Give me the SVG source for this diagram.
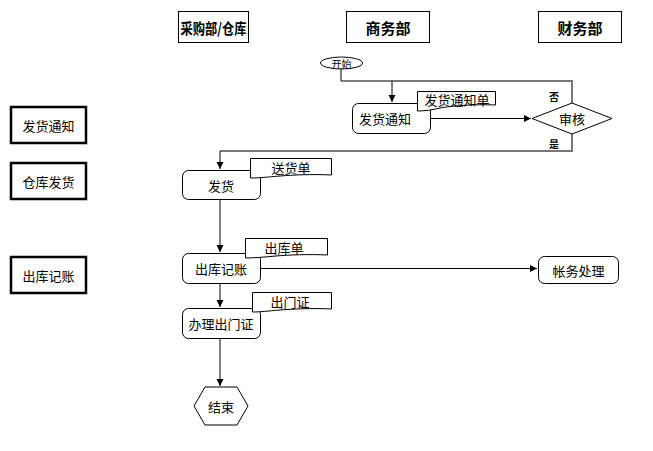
<svg xmlns="http://www.w3.org/2000/svg" width="653" height="451" viewBox="0 0 653 451">
<defs>
<marker id="ah" markerWidth="8" markerHeight="8" refX="7" refY="4" orient="auto" markerUnits="userSpaceOnUse">
<path d="M0,0.5 L7,4 L0,7.5 Z" fill="#000"/>
</marker>
<style>
text{font-family:"Noto Sans CJK SC","Liberation Sans",sans-serif;fill:#000;text-anchor:middle;dominant-baseline:central}
.t{font-size:13px}
.h{font-size:15px;font-weight:bold}
.s{font-size:10px}
.sb{font-size:10px;font-weight:bold}
.hb{fill:#fff;stroke:#000;stroke-width:1}
.lb{fill:#fff;stroke:#000;stroke-width:2.5}
.nd{fill:#fff;stroke:#000;stroke-width:1}
.ln{fill:none;stroke:#000;stroke-width:1}
.lg{fill:none;stroke:#777;stroke-width:2}
</style>
</defs>
<rect width="653" height="451" fill="#fff"/>
<g id="hdr-cg"><rect class="hb" x="178.5" y="11.5" width="70" height="31"/><text class="h" x="213.5" y="27" textLength="66" lengthAdjust="spacingAndGlyphs">采购部/仓库</text></g>
<g id="hdr-sw"><rect class="hb" x="346.5" y="11.5" width="83" height="31"/><text class="h" x="388" y="27">商务部</text></g>
<g id="hdr-cw"><rect class="hb" x="538.5" y="11.5" width="83" height="31"/><text class="h" x="580" y="27">财务部</text></g>
<g id="lbl-1"><rect class="lb" x="11" y="107" width="75" height="36"/><text class="t" x="48.5" y="125">发货通知</text></g>
<g id="lbl-2"><rect class="lb" x="11" y="163" width="75" height="36"/><text class="t" x="48.5" y="181">仓库发货</text></g>
<g id="lbl-3"><rect class="lb" x="11" y="257" width="75" height="36"/><text class="t" x="48.5" y="275">出库记账</text></g>
<g id="connectors">
<polyline class="ln" points="341,68 341,81 392,81"/>
<polyline class="lg" points="572,103 572,81 392,81"/>
<line class="ln" x1="392" y1="81" x2="392" y2="102" marker-end="url(#ah)"/>
<line class="ln" x1="430" y1="118.5" x2="531" y2="118.5" marker-end="url(#ah)"/>
<polyline class="lg" points="572,134 572,151 220,151"/>
<line class="ln" x1="220" y1="151" x2="220" y2="169" marker-end="url(#ah)"/>
<line class="ln" x1="220" y1="199" x2="220" y2="252" marker-end="url(#ah)"/>
<line class="ln" x1="260" y1="268.5" x2="537" y2="268.5" marker-end="url(#ah)"/>
<line class="ln" x1="220" y1="284" x2="220" y2="307" marker-end="url(#ah)"/>
<line class="ln" x1="220" y1="338" x2="220" y2="386" marker-end="url(#ah)"/>
</g>
<g id="start"><ellipse class="nd" cx="341.5" cy="63" rx="21" ry="6"/><text class="s" x="341.5" y="63">开始</text></g>
<g id="n-fhtz"><rect class="nd" x="352.5" y="103.5" width="78" height="30" rx="6"/><text class="t" x="385" y="118.5">发货通知</text></g>
<g id="d-fhtzd"><path class="nd" d="M417.5,91.5 H495.5 V105 C475,104 450,106 440,108 C432,110 424,111 417.5,111 Z"/><text class="t" x="457" y="99.5">发货通知单</text></g>
<g id="shenhe"><polygon class="nd" points="532,118.5 572,103 612,118.5 572,134"/><text class="t" x="572" y="118.5">审核</text><text class="sb" x="554" y="96">否</text><text class="sb" x="554" y="143">是</text></g>
<g id="n-fh"><rect class="nd" x="182.5" y="170.5" width="78" height="29" rx="6"/><text class="t" x="221" y="185">发货</text></g>
<g id="d-shd"><path class="nd" d="M250.5,158.5 H331.5 V175 C312,174 292,175 280,176 C268,177 259,178 250.5,178 Z"/><text class="t" x="291" y="167">送货单</text></g>
<g id="n-ckjz"><rect class="nd" x="182.5" y="253.5" width="78" height="30" rx="6"/><text class="t" x="221" y="268.5">出库记账</text></g>
<g id="d-ckd"><path class="nd" d="M245.5,238.5 H327.5 V255 C308,254 288,255 276,256 C264,257 254,258 245.5,258 Z"/><text class="t" x="284" y="247">出库单</text></g>
<g id="n-cwcl"><rect class="nd" x="538.5" y="256.5" width="80" height="27" rx="6"/><text class="t" x="578.5" y="270">帐务处理</text></g>
<g id="n-blcmz"><rect class="nd" x="182.5" y="308.5" width="78" height="30" rx="6"/><text class="t" x="221" y="323.5">办理出门证</text></g>
<g id="d-cmz"><path class="nd" d="M252.5,292.5 H331.5 V309 C312,308 292,309 280,310 C268,311 260,312 252.5,312 Z"/><text class="t" x="290" y="301">出门证</text></g>
<g id="end"><polygon class="nd" points="194,406 205,387 237,387 248,406 237,425 205,425"/><text class="t" x="221" y="406">结束</text></g>
</svg>
